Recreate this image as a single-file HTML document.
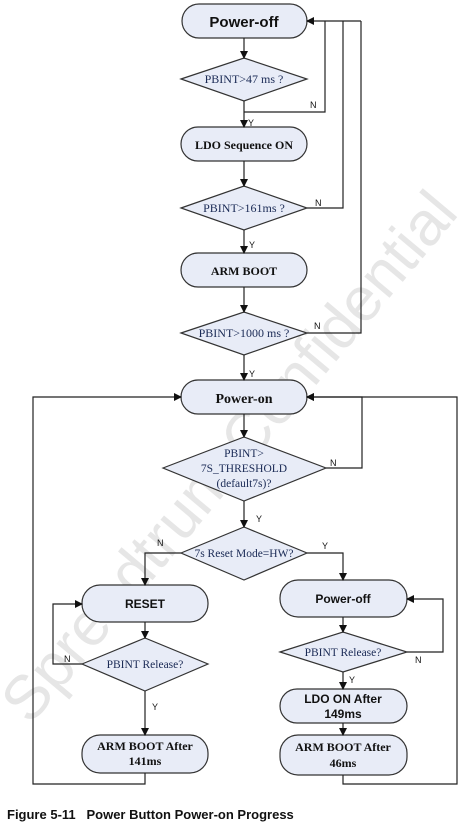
<!DOCTYPE html>
<html><head><meta charset="utf-8"><style>
body{margin:0;background:#fff;width:473px;height:825px;overflow:hidden}
svg{display:block}
.s{font-family:"Liberation Sans",sans-serif;font-weight:bold;fill:#111}
.r{font-family:"Liberation Serif",serif;font-weight:bold;fill:#111}
.d{font-family:"Liberation Serif",serif;fill:#1a2a55}
.l{font-family:"Liberation Sans",sans-serif;font-size:9px;fill:#111}
</style></head><body>
<svg width="473" height="825" viewBox="0 0 473 825" xmlns="http://www.w3.org/2000/svg">
<defs><marker id="a" markerWidth="8" markerHeight="8" refX="7" refY="4" orient="auto" markerUnits="userSpaceOnUse"><path d="M0,0 L8,4 L0,8z" fill="#111"/></marker></defs>
<text x="245" y="470" transform="rotate(-50 245 470)" font-family="Liberation Sans,sans-serif" font-size="62" fill="#e6e6e6" text-anchor="middle">Spreadtrum Confidential</text>
<g fill="#e8ecf7" stroke="#333" stroke-width="1.2">
<rect x="182" y="4" width="125" height="34" rx="17"/>
<polygon points="181,79 244,58 307,79 244,101"/>
<rect x="181" y="127" width="126" height="34" rx="17"/>
<polygon points="181,208 244,186 307,208 244,230"/>
<rect x="181" y="253" width="126" height="34" rx="17"/>
<polygon points="181,333 244,312 307,333 244,355"/>
<rect x="181" y="380" width="126" height="34" rx="17"/>
<polygon points="163,468 244,437 326,468 244,501"/>
<polygon points="181,553 244,527 307,553 244,580"/>
<rect x="82" y="585" width="126" height="37" rx="18"/>
<rect x="280" y="580" width="127" height="37" rx="18"/>
<polygon points="82,664 145,638 208,664 145,691"/>
<polygon points="280,652 343,632 407,652 343,672"/>
<rect x="280" y="689" width="127" height="34" rx="17"/>
<rect x="280" y="735" width="127" height="40" rx="18"/>
<rect x="82" y="735" width="126" height="38" rx="18"/>
</g>
<g stroke="#222" stroke-width="1.2" fill="none">
<path d="M244,38V58" marker-end="url(#a)"/>
<path d="M244,101V127" marker-end="url(#a)"/>
<path d="M244,161V186" marker-end="url(#a)"/>
<path d="M244,230V253" marker-end="url(#a)"/>
<path d="M244,287V312" marker-end="url(#a)"/>
<path d="M244,355V380" marker-end="url(#a)"/>
<path d="M244,414V437" marker-end="url(#a)"/>
<path d="M244,501V527" marker-end="url(#a)"/>
<path d="M244,112H325V21"/>
<path d="M361,21H307" marker-end="url(#a)"/>
<path d="M307,208H343V21"/>
<path d="M307,333H361V21"/>
<path d="M326,468H362V397H307" marker-end="url(#a)"/>
<path d="M181,553H145V585" marker-end="url(#a)"/>
<path d="M307,553H343V580" marker-end="url(#a)"/>
<path d="M145,622V638" marker-end="url(#a)"/>
<path d="M343,617V632" marker-end="url(#a)"/>
<path d="M82,664H53V604H82" marker-end="url(#a)"/>
<path d="M407,652H443V599H407" marker-end="url(#a)"/>
<path d="M145,691V735" marker-end="url(#a)"/>
<path d="M343,672V689" marker-end="url(#a)"/>
<path d="M343,723V735" marker-end="url(#a)"/>
<path d="M145,773V784H33V397H181" marker-end="url(#a)"/>
<path d="M343,775V784H457V397H307" marker-end="url(#a)"/>
</g>
<g text-anchor="middle">
<text x="244" y="27" class="s" font-size="15">Power-off</text>
<text x="244" y="83" class="d" font-size="12">PBINT&gt;47 ms ?</text>
<text x="244" y="149" class="r" font-size="12">LDO Sequence ON</text>
<text x="244" y="212" class="d" font-size="12">PBINT&gt;161ms ?</text>
<text x="244" y="275" class="r" font-size="12">ARM BOOT</text>
<text x="244" y="337" class="d" font-size="12">PBINT&gt;1000 ms ?</text>
<text x="244" y="403" class="r" font-size="14">Power-on</text>
<text x="244" y="457" class="d" font-size="11.5">PBINT&gt;</text>
<text x="244" y="472" class="d" font-size="11.5">7S_THRESHOLD</text>
<text x="244" y="487" class="d" font-size="11.5">(default7s)?</text>
<text x="244" y="557" class="d" font-size="11.5">7s Reset Mode=HW?</text>
<text x="145" y="608" class="s" font-size="12">RESET</text>
<text x="343" y="603" class="s" font-size="12">Power-off</text>
<text x="145" y="668" class="d" font-size="11.5">PBINT Release?</text>
<text x="343" y="656" class="d" font-size="11.5">PBINT Release?</text>
<text x="343" y="703" class="s" font-size="12">LDO ON After</text>
<text x="343" y="718" class="s" font-size="12">149ms</text>
<text x="343" y="751" class="r" font-size="12">ARM BOOT After</text>
<text x="343" y="767" class="r" font-size="12">46ms</text>
<text x="145" y="750" class="r" font-size="12">ARM BOOT After</text>
<text x="145" y="765" class="r" font-size="12">141ms</text>
</g>
<text x="310" y="108" class="l">N</text><text x="248" y="126" class="l">Y</text>
<text x="315" y="206" class="l">N</text><text x="249" y="248" class="l">Y</text>
<text x="314" y="329" class="l">N</text><text x="249" y="377" class="l">Y</text>
<text x="330" y="466" class="l">N</text><text x="256" y="522" class="l">Y</text>
<text x="157" y="546" class="l">N</text><text x="322" y="549" class="l">Y</text>
<text x="64" y="662" class="l">N</text><text x="152" y="710" class="l">Y</text>
<text x="415" y="663" class="l">N</text><text x="349" y="683" class="l">Y</text>
<text x="7" y="819" font-family="Liberation Sans,sans-serif" font-weight="bold" font-size="13" fill="#111" xml:space="preserve">Figure 5-11   Power Button Power-on Progress</text>
</svg>
</body></html>
